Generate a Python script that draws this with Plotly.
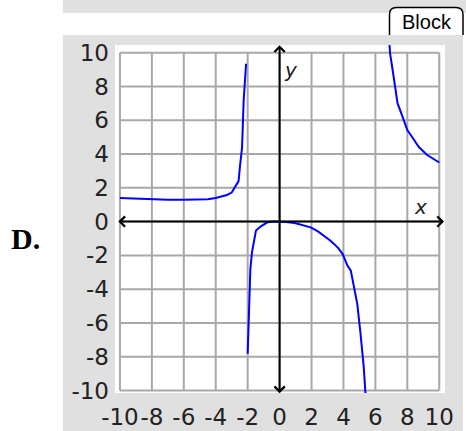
import plotly.graph_objects as go

# Tick positions and printed labels (plain hyphen as the minus sign)
tick_vals = [-10, -8, -6, -4, -2, 0, 2, 4, 6, 8, 10]
tick_text = ["-10", "-8", "-6", "-4", "-2", "0", "2", "4", "6", "8", "10"]

# Branch left of the asymptote near x = -2
left_x = [-10, -9, -8.5, -8, -7, -6, -5, -4.5, -4, -3.6, -3.3, -3.0, -2.78, -2.57, -2.48, -2.35, -2.25, -2.1]
left_y = [1.40, 1.37, 1.33, 1.30, 1.29, 1.29, 1.30, 1.33, 1.40, 1.50, 1.58, 1.72, 2.10, 2.40, 3.30, 4.40, 7.20, 9.35]

# Middle branch between the two asymptotes
mid_x = [-2.0, -1.94, -1.83, -1.73, -1.59, -1.48, -1.17, -0.77, -0.4, 0, 0.4, 0.95, 1.5, 1.95, 2.4,
         2.79, 3.15, 3.41, 3.7, 3.94, 4.25, 4.46, 4.66, 4.87, 5.07, 5.27, 5.38]
mid_y = [-7.83, -5.56, -2.80, -1.82, -1.12, -0.53, -0.28, -0.04, 0.0, 0.0, -0.02, -0.08, -0.2, -0.34, -0.58,
         -0.83, -1.1, -1.32, -1.6, -1.91, -2.6, -2.9, -3.9, -4.9, -6.65, -8.6, -10.2]

# Branch right of the asymptote near x = 6.5
right_x = [6.88, 6.92, 7.08, 7.22, 7.39, 7.59, 7.79, 8.0, 8.31, 8.71, 9.22, 9.63, 10.0]
right_y = [10.55, 9.96, 8.98, 8.0, 7.0, 6.5, 6.0, 5.42, 5.0, 4.43, 3.96, 3.7, 3.5]

W, H = 466, 431
PL, PR, PT, PB = 115, 445, 45, 393  # plot box in pixels


def px(xp):
    return (xp - PL) / (PR - PL)


def py(yp):
    return (PB - yp) / (PB - PT)


fig = go.Figure()
for xs, ys in [(left_x, left_y), (mid_x, mid_y), (right_x, right_y)]:
    fig.add_trace(go.Scatter(x=xs, y=ys, mode="lines",
                             line=dict(color="#0000ff", width=2),
                             showlegend=False, hoverinfo="skip"))

shapes = []
# grey panel and top strip
shapes.append(dict(type="rect", xref="paper", yref="paper", layer="below",
                   x0=px(63), x1=px(463), y0=py(431), y1=py(35),
                   fillcolor="#e0e0e0", line=dict(width=0)))
shapes.append(dict(type="rect", xref="paper", yref="paper", layer="below",
                   x0=px(63), x1=px(466), y0=py(13), y1=py(0),
                   fillcolor="#e0e0e0", line=dict(width=0)))
# white graph box
shapes.append(dict(type="rect", xref="paper", yref="paper", layer="below",
                   x0=0, x1=1, y0=0, y1=1,
                   fillcolor="white", line=dict(width=0)))
# tab with rounded top corners
tx0, tx1, ty0, ty1, r = 389.5, 463, 7.5, 35, 7
tab_path = (f"M {px(tx0)},{py(ty1)} L {px(tx0)},{py(ty0 + r)} "
            f"Q {px(tx0)},{py(ty0)} {px(tx0 + r)},{py(ty0)} "
            f"L {px(tx1 - r)},{py(ty0)} Q {px(tx1)},{py(ty0)} {px(tx1)},{py(ty0 + r)} "
            f"L {px(tx1)},{py(ty1)}")
shapes.append(dict(type="path", xref="paper", yref="paper", path=tab_path,
                   fillcolor="white", line=dict(color="black", width=1.5)))
# grid
for v in tick_vals:
    shapes.append(dict(type="line", xref="x", yref="y", layer="below",
                       x0=v, x1=v, y0=-10, y1=10,
                       line=dict(color="#a8a8a8", width=2)))
    shapes.append(dict(type="line", xref="x", yref="y", layer="below",
                       x0=-10, x1=10, y0=v, y1=v,
                       line=dict(color="#a8a8a8", width=2)))

annotations = [
    # coordinate axes with arrowheads on both ends
    dict(x=10.3, y=0, ax=-10.2, ay=0, xref="x", yref="y", axref="x", ayref="y",
         text="", showarrow=True, arrowside="end+start", arrowhead=4, startarrowhead=4,
         arrowsize=1, startarrowsize=1, arrowwidth=2, arrowcolor="black",
         standoff=0, startstandoff=0),
    dict(x=0, y=10.45, ax=0, ay=-10.25, xref="x", yref="y", axref="x", ayref="y",
         text="", showarrow=True, arrowside="end+start", arrowhead=4, startarrowhead=4,
         arrowsize=1, startarrowsize=1, arrowwidth=2, arrowcolor="black",
         standoff=0, startstandoff=0),
    dict(x=8.83, y=0.85, xref="x", yref="y", text="<i>x</i>", showarrow=False,
         font=dict(family="DejaVu Sans", size=20, color="#222")),
    dict(x=0.69, y=9.0, xref="x", yref="y", text="<i>y</i>", showarrow=False,
         font=dict(family="DejaVu Sans", size=20, color="#222")),
    dict(x=px(9), y=py(238), xref="paper", yref="paper", xanchor="left", yanchor="middle",
         text="<b>D.</b>", showarrow=False,
         font=dict(family="Liberation Serif", size=30, color="black")),
    dict(x=px(426.5), y=py(22.5), xref="paper", yref="paper", xanchor="center", yanchor="middle",
         text="Block", showarrow=False,
         font=dict(family="Liberation Sans", size=20, color="black")),
]

axis_common = dict(showgrid=False, zeroline=False, showline=False, ticks="",
                   tickvals=tick_vals, ticktext=tick_text, fixedrange=True,
                   automargin=False, tickangle=0,
                   tickfont=dict(family="DejaVu Sans", size=23, color="#222"))

fig.update_layout(
    width=W, height=H, autosize=False,
    margin=dict(l=PL, r=W - PR, t=PT, b=H - PB, pad=0),
    paper_bgcolor="white", plot_bgcolor="white",
    xaxis=dict(range=[-10.31, 10.36], ticklabelstandoff=8, **axis_common),
    yaxis=dict(range=[-10.15, 10.46], ticklabelstandoff=5, **axis_common),
    shapes=shapes, annotations=annotations,
)

fig.write_html("out.html", config={"displayModeBar": False})
